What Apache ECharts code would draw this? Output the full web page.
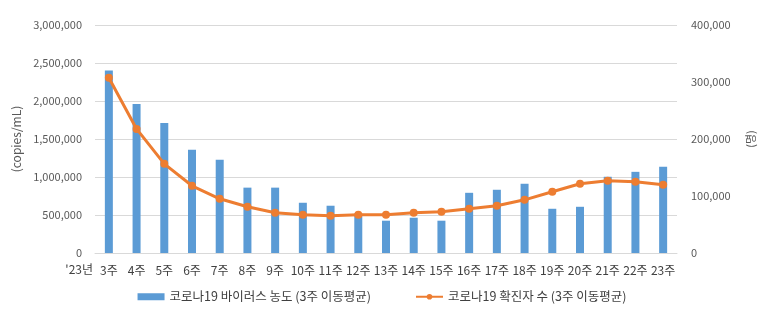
<!DOCTYPE html>
<html>
<head>
<meta charset="utf-8">
<script src="https://cdn.jsdelivr.net/npm/echarts@6/dist/echarts.min.js"></script>
<style>
html,body{margin:0;padding:0;background:#fff;}
#c{width:764px;height:328px;}
</style>
</head>
<body>
<div id="c"></div>
<script>
const categories = ['3주','4주','5주','6주','7주','8주','9주','10주','11주','12주','13주','14주','15주','16주','17주','18주','19주','20주','21주','22주','23주'];
const virusConc = [2400000,1962000,1712000,1357000,1226000,860000,860000,661000,622000,520000,425000,464000,425000,792000,832000,911000,582000,608000,1003000,1068000,1134000];
const cases = [307500,217700,156400,117900,95100,81100,70600,67100,65300,67100,67100,70600,72300,77600,82800,93300,107400,121400,126600,124900,119600];
const leftTicks = {min:0, max:3000000, interval:500000};
const rightTicks = {min:0, max:400000, interval:100000};
const seriesNames = ['코로나19 바이러스 농도 (3주 이동평균)','코로나19 확진자 수 (3주 이동평균)'];

const FONT = '"Noto Sans CJK KR", "Noto Sans", sans-serif';
const chart = echarts.init(document.getElementById('c'), null, {renderer:'canvas'});
const fmt = v => v.toLocaleString('en-US');
chart.setOption({
  animation:false,
  textStyle:{fontFamily:FONT},
  grid:{left:95, right:86, top:25, bottom:75},
  legend:{
    bottom:20, left:'center', itemGap:44,
    itemWidth:27, itemHeight:7,
    textStyle:{fontSize:12.5, color:'#404040', fontFamily:FONT},
    data:[{name:seriesNames[0], icon:'rect'},{name:seriesNames[1]}]
  },
  xAxis:{
    type:'category', data:categories,
    axisLine:{lineStyle:{color:'#D9D9D9'}},
    axisTick:{show:false},
    axisLabel:{color:'#404040', fontSize:12, margin:11, interval:0}
  },
  yAxis:[
    {type:'value', min:leftTicks.min, max:leftTicks.max, interval:leftTicks.interval,
     name:'(copies/mL)', nameLocation:'middle', nameGap:73, nameRotate:90,
     nameTextStyle:{color:'#595959', fontSize:12},
     axisLabel:{color:'#595959', fontSize:11, margin:13, formatter:fmt},
     splitLine:{lineStyle:{color:'#D9D9D9'}}},
    {type:'value', min:rightTicks.min, max:rightTicks.max, interval:rightTicks.interval,
     name:'(명)', nameLocation:'middle', nameGap:68, nameRotate:90,
     nameTextStyle:{color:'#595959', fontSize:11},
     axisLabel:{color:'#595959', fontSize:11, margin:14, formatter:fmt},
     splitLine:{show:false}}
  ],
  graphic:[{type:'text', right:764-93, top:263, style:{text:"'23년", fill:'#404040', fontSize:12, fontFamily:FONT}}],
  series:[
    {name:seriesNames[0], type:'bar', data:virusConc, yAxisIndex:0, barWidth:8,
     itemStyle:{color:'#5B9BD5'}},
    {name:seriesNames[1], type:'line', data:cases, yAxisIndex:1,
     symbol:'circle', symbolSize:8,
     lineStyle:{color:'#ED7D31', width:3},
     itemStyle:{color:'#ED7D31'}}
  ]
});
</script>
</body>
</html>
